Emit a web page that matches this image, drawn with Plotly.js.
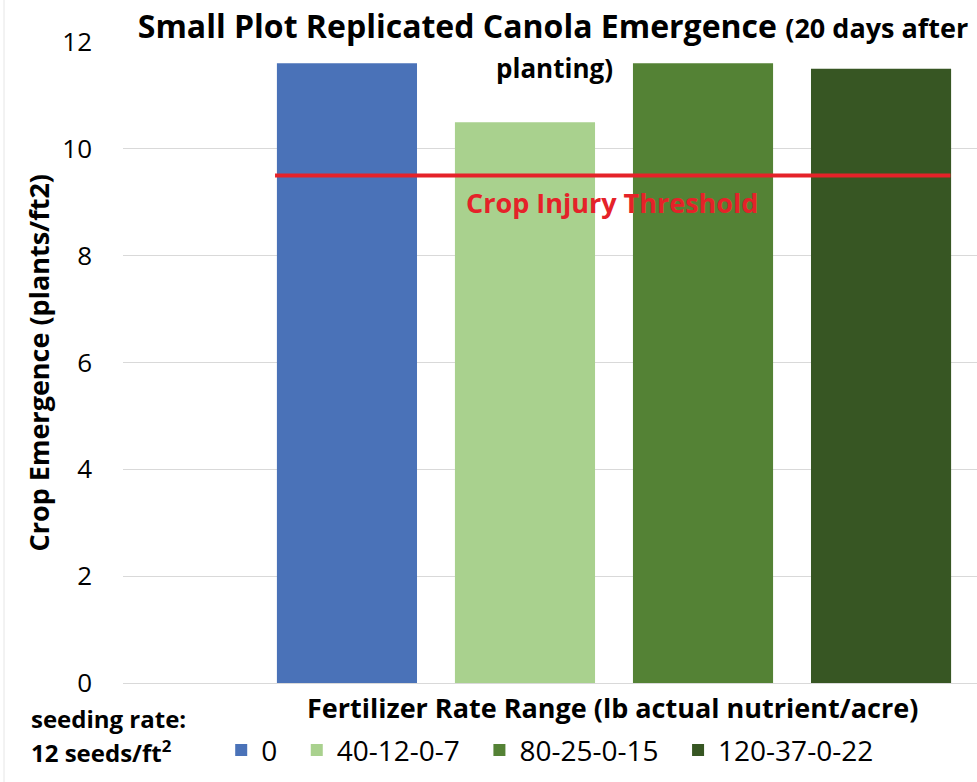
<!DOCTYPE html>
<html>
<head>
<meta charset="utf-8">
<script src="https://cdn.plot.ly/plotly-3.0.1.min.js"></script>
<style>html,body{margin:0;padding:0;background:#fff;}#chart{width:977px;height:782px;}</style>
</head>
<body>
<div id="chart"></div>
<script>
const categories = ["0", "40-12-0-7", "80-25-0-15", "120-37-0-22"];
const emergence = [11.6, 10.5, 11.6, 11.5];
const colors = ["#4a72b8", "#a9d18e", "#548235", "#375623"];
const threshold = 9.5;
const yTicks = [0, 2, 4, 6, 8, 10, 12];

const FONT = "Open Sans, sans-serif";

const traces = categories.map((c, i) => ({
  type: "bar",
  name: c + "\u00a0\u00a0",
  x: [c],
  y: [emergence[i]],
  width: 0.787,
  marker: {color: colors[i]},
  hoverinfo: "x+y"
}));

const layout = {
  width: 977,
  height: 782,
  margin: {l: 123, r: 0, t: 42, b: 99},
  paper_bgcolor: "#fff",
  plot_bgcolor: "#fff",
  barmode: "overlay",
  font: {family: FONT, color: "#000"},
  showlegend: true,
  title: {
    text: "<b>Small Plot Replicated Canola Emergence</b> <b><span style='font-size:27px'>(20 days after</span></b>",
    font: {family: FONT, size: 32, color: "#000"},
    x: 0.566, xref: "container", xanchor: "center",
    y: 0.966, yref: "container", yanchor: "middle"
  },
  legend: {
    orientation: "h",
    x: 0.115, xanchor: "left",
    y: -0.105, yanchor: "middle",
    font: {family: FONT, size: 28, color: "#000"},
    itemwidth: 30,
    traceorder: "normal"
  },
  xaxis: {
    type: "category",
    categoryorder: "array",
    categoryarray: categories,
    range: [-1.258, 3.539],
    showticklabels: false,
    showgrid: false,
    zeroline: false,
    showline: false,
    fixedrange: true
  },
  yaxis: {
    range: [0, 12],
    tickvals: yTicks,
    ticktext: yTicks.map(String),
    tickfont: {family: FONT, size: 26, color: "#000"},
    showgrid: true,
    gridcolor: "#d9d9d9",
    gridwidth: 1,
    zeroline: true,
    zerolinecolor: "#d9d9d9",
    zerolinewidth: 1,
    showline: false,
    ticks: "",
    ticklabelstandoff: 30,
    fixedrange: true
  },
  shapes: [
    {
      type: "line", xref: "x", yref: "y",
      x0: -0.404, x1: 3.39, y0: threshold, y1: threshold,
      line: {color: "#e52229", width: 4}
    },
    {
      type: "line", xref: "paper", yref: "paper",
      x0: -0.1393, x1: -0.1393, y0: -0.155, y1: 1.066,
      line: {color: "#e6e6e6", width: 1}
    }
  ],
  annotations: [
    {
      text: "<b>planting)</b>",
      xref: "paper", yref: "paper",
      x: 0.505, y: 1.0, yshift: -26,
      xanchor: "center", yanchor: "middle",
      showarrow: false,
      font: {family: FONT, size: 26, color: "#000"}
    },
    {
      text: "<b>Crop Emergence (plants/ft2)</b>",
      xref: "paper", yref: "paper",
      x: 0, xshift: -85, y: 0.5,
      xanchor: "center", yanchor: "middle",
      textangle: -90,
      showarrow: false,
      font: {family: FONT, size: 27, color: "#000"}
    },
    {
      text: "<b>Fertilizer Rate Range (lb actual nutrient/acre)</b>",
      xref: "paper", yref: "paper",
      x: 0.5726, y: 0, yshift: -24,
      xanchor: "center", yanchor: "middle",
      showarrow: false,
      font: {family: FONT, size: 27, color: "#000"}
    },
    {
      text: "<b>Crop Injury Threshold</b>",
      xref: "paper", yref: "y",
      x: 0.5726, y: threshold, yshift: -27,
      xanchor: "center", yanchor: "middle",
      showarrow: false,
      font: {family: FONT, size: 27, color: "#e52229"}
    },
    {
      text: "<b>seeding rate:</b>",
      xref: "paper", yref: "paper",
      x: 0, xshift: -94, y: 0, yshift: -35,
      xanchor: "left", yanchor: "middle",
      align: "left",
      showarrow: false,
      font: {family: FONT, size: 24, color: "#000"}
    },
    {
      text: "<b>12 seeds/ft<sup>2</sup></b>",
      xref: "paper", yref: "paper",
      x: 0, xshift: -94, y: 0, yshift: -68,
      xanchor: "left", yanchor: "middle",
      align: "left",
      showarrow: false,
      font: {family: FONT, size: 24, color: "#000"}
    }
  ]
};

Plotly.newPlot("chart", traces, layout, {displayModeBar: false, staticPlot: true});
</script>
</body>
</html>
